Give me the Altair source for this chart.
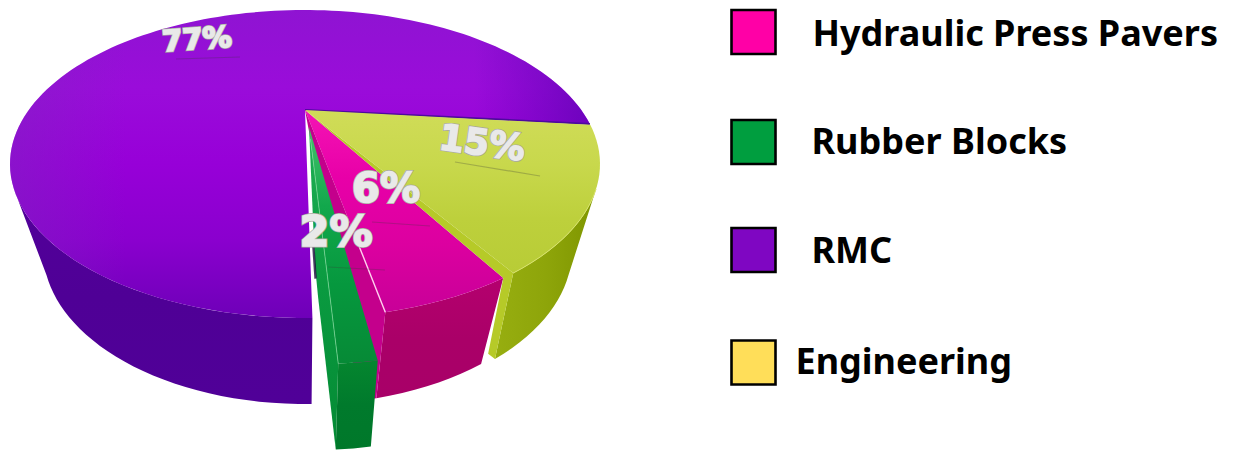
import math
import altair as alt
import pandas as pd

# ---- data
categories = ["Engineering", "Hydraulic Press Pavers", "Rubber Blocks", "RMC"]
shares = [15, 6, 2, 77]
legend_names = ["Hydraulic Press Pavers", "Rubber Blocks", "RMC", "Engineering"]
legend_colors = ["#ff00a6", "#009e3f", "#7f06c2", "#ffde59"]

# ---- layout of the perspective pie (picture pixels)
START = 6.0           # degrees where the first slice starts
TOP = dict(cx=305, cy=164, a=295, b=154)
BOT = dict(cx=305, cy=250, a=262, b=154)
E = -0.35             # how far the disc's centre is pushed back by the perspective
STEP = 2.0


def warp(deg):
    s, c = math.sin(math.radians(deg)), math.cos(math.radians(deg))
    d = 1 + E * s
    return c * math.sqrt(1 - E * E) / d, (s + E) / d


def rim(deg, ell, dx=0.0, dy=0.0):
    u, v = warp(deg)
    return ell["cx"] + ell["a"] * u + dx, ell["cy"] + ell["b"] * v + dy


def apex(dx=0.0, dy=0.0):
    return TOP["cx"] + dx, TOP["cy"] + TOP["b"] * E + dy


def arc(a0, a1, ell, dx=0.0, dy=0.0):
    n = max(1, int(abs(a1 - a0) / STEP))
    return [rim(a0 + (a1 - a0) * i / n, ell, dx, dy) for i in range(n + 1)]


# cumulative slice boundaries in degrees
bounds = [START]
for v in shares:
    bounds.append(bounds[-1] + v * 3.6)
y0, y1 = bounds[0], bounds[1]
p1 = bounds[2]
g1 = bounds[3]
u1 = bounds[4]
SILH = 29.0           # where the side wall leaves the outline
GAP_Y, GAP_P, GAP_G = 2.0, 2.6, 1.8
YD = (5, 0)
GD = (11, 46)
GA = (4, 17)          # top corner of the pulled-out slice


def grad(stops, horizontal=False):
    n = len(stops) - 1
    return alt.LinearGradient(
        gradient="linear", x1=0, x2=1 if horizontal else 0, y1=0, y2=0 if horizontal else 1,
        stops=[alt.GradientStop(color=c, offset=i / n) for i, c in enumerate(stops)],
    )


xscale = alt.Scale(domain=[8, 1225], zero=False, nice=False)
yscale = alt.Scale(domain=[450, 8], zero=False, nice=False)
X = alt.X("x:Q", axis=None, scale=xscale)
Y = alt.Y("y:Q", axis=None, scale=yscale)


def poly(pts, fill):
    pts = list(pts) + [pts[0]]
    df = pd.DataFrame([{"x": p[0], "y": p[1], "i": i} for i, p in enumerate(pts)])
    return alt.Chart(df).mark_line(filled=True, fill=fill, interpolate="linear").encode(
        x=X, y=Y, order=alt.Order("i:Q")
    )


def seg(pts, color, width, opacity=1.0):
    df = pd.DataFrame([{"x": p[0], "y": p[1], "i": i} for i, p in enumerate(pts)])
    return alt.Chart(df).mark_line(color=color, strokeWidth=width, opacity=opacity).encode(
        x=X, y=Y, order=alt.Order("i:Q")
    )


def along(a, b, f, dx=0.0):
    return a[0] + (b[0] - a[0]) * f + dx, a[1] + (b[1] - a[1]) * f


layers = []
# RMC
layers.append(poly(arc(g1 + 0.2, 180 - SILH, TOP) + arc(180 - SILH, g1 + 0.2, BOT),
                   grad(["#52009a", "#4f0096", "#500098"])))
purple_top = [apex()] + arc(g1 + 0.2, u1 - 0.3, TOP)
layers.append(poly(purple_top, grad(["#8f14d2", "#9a0cda", "#9700d8", "#8a00ce", "#6e00b8"])))
layers.append(poly(purple_top, grad(["rgba(125,40,190,0.45)", "rgba(125,40,190,0)", "rgba(125,40,190,0)",
                                     "rgba(125,40,190,0)", "rgba(90,0,180,0)", "rgba(80,0,170,0.6)"], True)))
layers.append(seg([apex(), rim(u1 - 0.3, TOP)], "#4d0a9e", 2.0))
# Hydraulic Press Pavers: side, cut face, top
layers.append(poly(arc(y1, p1 - GAP_P, TOP) + arc(p1 - GAP_P, y1, BOT), grad(["#b4006e", "#aa0068", "#a80068"])))
layers.append(poly([apex()] + arc(y1, p1 - GAP_P, TOP), grad(["#f414b4", "#e800a8", "#dc00a0", "#c80098"])))
layers.append(poly([apex(), rim(p1 - GAP_P, TOP), rim(p1 - GAP_P, BOT), rim(p1, BOT)], "#c4008c"))
layers.append(seg([along(apex(), rim(p1 - GAP_P, TOP), 0.62), rim(p1 - GAP_P, TOP)], "#ffd0ee", 1.4))
# Engineering: side, cut face, top
layers.append(poly(arc(y1 - GAP_Y, SILH, TOP) + arc(SILH, y1 - GAP_Y, BOT, *YD), grad(["#97ae10", "#8ea50a", "#7f9600"], True)))
layers.append(poly([apex(), rim(y1, TOP), along(rim(y1, BOT, *YD), rim(y1, TOP), 0.12),
                    rim(y1 - GAP_Y, BOT, *YD), rim(y1 - GAP_Y, TOP)], "#b6ca28"))
layers.append(poly([apex()] + arc(y0, y1 - GAP_Y, TOP), grad(["#d0dc58", "#c8d84c", "#bdd03c", "#b8cc36"])))
layers.append(seg(arc(SILH, y1 - GAP_Y, TOP), "#d8e26c", 1.0))
# Rubber Blocks: cut face, side, top (pulled out of the pie)
g_top, g_bot = rim(g1 - GAP_G, TOP, *GD), rim(g1 - GAP_G, BOT, *GD)
layers.append(poly([apex(*GA), g_top, g_bot, along(apex(*GA), g_bot, 0.53, -5), along(apex(*GA), g_bot, 0.43, -5.5)],
                   grad(["#1fb055", "#0a9a40", "#048a34"])))
layers.append(seg([along(apex(*GA), g_bot, 0.37, -5.5), along(apex(*GA), g_bot, 0.47, -6)], "#1a0a3a", 2.4, 0.8))
layers.append(poly(arc(p1, g1 - GAP_G, TOP, *GD) + arc(g1 - GAP_G, p1, BOT, *GD), grad(["#05862f", "#007a2c", "#00782a"])))
layers.append(poly([apex(*GA)] + arc(p1, g1 - GAP_G, TOP, *GD), grad(["#45c26c", "#12a84c", "#06983e", "#068a36"])))
layers.append(seg([along(apex(*GA), g_top, 0.05), g_top], "#7fd89a", 1.0, 0.7))

# faint marks under the value labels
for a, b in [((176, 59), (240, 57)), ((455, 162), (540, 176)), ((372, 222), (430, 226)), ((328, 267), (385, 270))]:
    layers.append(seg([a, b], "#3a3a3a", 1.2, 0.28))

# value labels
label_x = [482, 386, 336, 197]
label_y = [144, 190, 233, 40]
label_size = [36, 40, 43, 29]
label_angle = [8, 0, 0, 356]
for lx, ly, v, sz, an in zip(label_x, label_y, shares, label_size, label_angle):
    df = pd.DataFrame([{"x": lx, "y": ly, "t": f"{v}%"}])
    base = dict(font="DejaVu Sans", fontWeight="bold", fontSize=sz, angle=an, align="center", baseline="middle")
    layers.append(alt.Chart(df).mark_text(fill="#a8a8a0", stroke="#a8a8a0", strokeWidth=3.0, **base).encode(x=X, y=Y, text="t:N"))
    layers.append(alt.Chart(df).mark_text(fill="#e9e9e9", stroke="#e9e9e9", strokeWidth=1.6, **base).encode(x=X, y=Y, text="t:N"))

# legend
rows = [32, 142, 250, 362.5]
text_x = [812.5, 811.5, 811.5, 795.5]
text_y = [34.5, 142.5, 251.7, 362.5]
legend_df = pd.DataFrame({"name": legend_names, "color": legend_colors, "y": rows, "x": [753.5] * 4,
                          "tx": text_x, "ty": text_y})
layers.append(
    alt.Chart(legend_df).mark_square(size=44 * 44, stroke="black", strokeWidth=2.6, opacity=1, filled=True).encode(
        x=X, y=Y, fill=alt.Fill("color:N", scale=None)
    )
)
layers.append(
    alt.Chart(legend_df).mark_text(
        font="Noto Sans", fontWeight="bold", fontSize=36, align="left", baseline="middle", color="black"
    ).encode(x=alt.X("tx:Q", axis=None, scale=xscale), y=alt.Y("ty:Q", axis=None, scale=yscale), text="name:N")
)

chart = alt.layer(*layers).properties(
    width=1217, height=442, padding=0, autosize=alt.AutoSizeParams(type="none")
).configure_view(stroke=None)

chart.save("out.html", embed_options={"renderer": "svg", "actions": False})
